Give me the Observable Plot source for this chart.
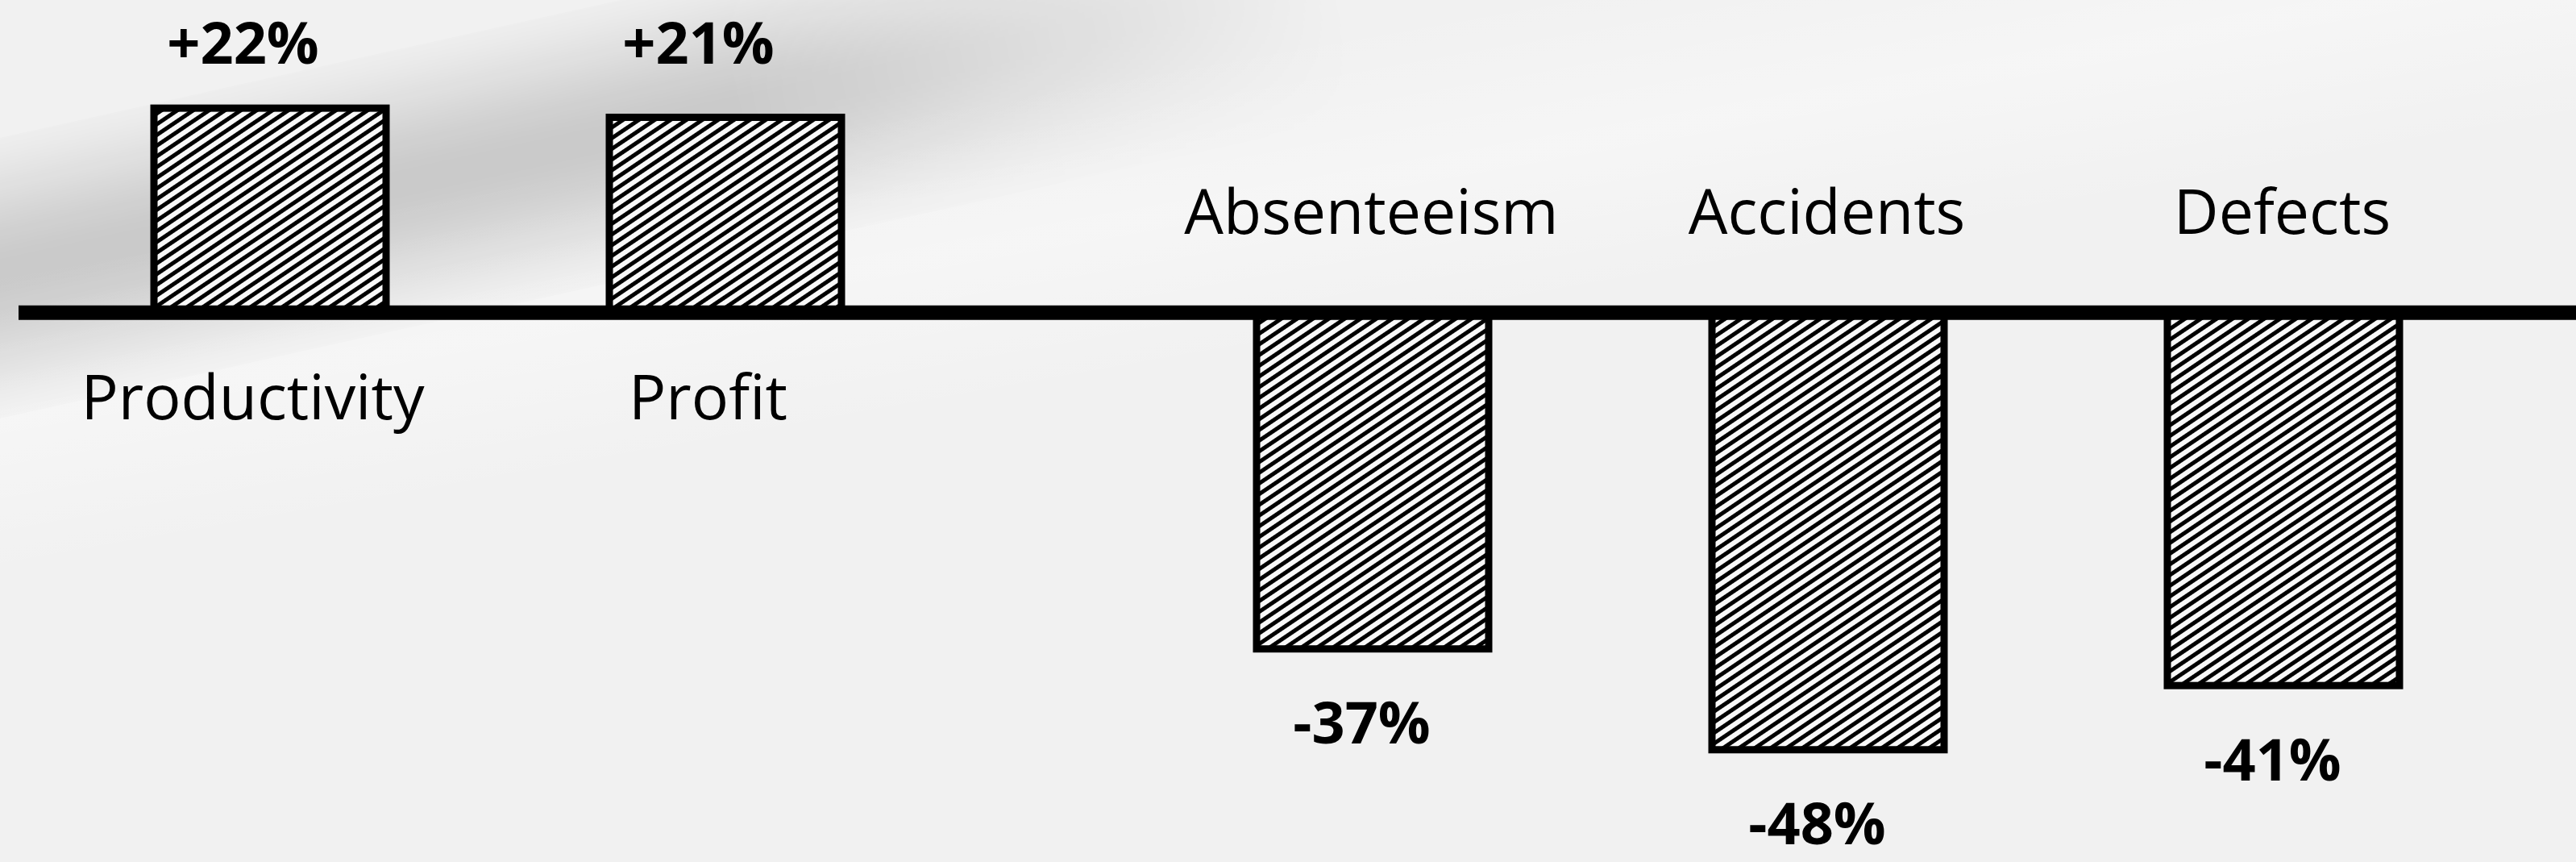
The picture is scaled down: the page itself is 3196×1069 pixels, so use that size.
<!DOCTYPE html>
<html>
<head>
<meta charset="utf-8">
<script src="https://cdn.jsdelivr.net/npm/d3@7"></script>
<script src="https://cdn.jsdelivr.net/npm/@observablehq/plot@0.6"></script>
<style>
  html, body { margin: 0; padding: 0; }
  body {
    width: 3196px; height: 1069px; position: relative; overflow: hidden;
    background: #f1f1f1;
    font-family: "Open Sans", sans-serif;
  }
  #shadow {
    position: absolute; left: -200px; top: 215px; width: 2200px; height: 340px;
    background: linear-gradient(to bottom, rgba(0,0,0,0) 0%, rgba(0,0,0,0.18) 45%, rgba(0,0,0,0.15) 60%, rgba(0,0,0,0) 100%);
    transform: rotate(-12.5deg); transform-origin: 0 0;
    -webkit-mask-image: linear-gradient(to right, #000 0%, #000 50%, rgba(0,0,0,0) 85%);
    mask-image: linear-gradient(to right, #000 0%, #000 50%, rgba(0,0,0,0) 85%);
    filter: blur(28px);
  }
  #light {
    position: absolute; left: 0; top: 0; width: 3196px; height: 1069px;
    background: linear-gradient(170deg, rgba(255,255,255,0) 20%, rgba(255,255,255,0.35) 32%, rgba(255,255,255,0) 44%);
  }
  #chart { position: absolute; left: 0; top: 0; }
</style>
</head>
<body>
<div id="light"></div>
<div id="shadow"></div>
<div id="chart"></div>
<script>
const categories = ["Productivity", "Profit", "Absenteeism", "Accidents", "Defects"];
const values = [22, 21, -37, -48, -41];
const valueLabels = ["+22%", "+21%", "-37%", "-48%", "-41%"];

const data = categories.map((c, i) => ({category: c, value: values[i], label: valueLabels[i]}));
const gains = data.filter(d => d.value > 0);
const losses = data.filter(d => d.value < 0);

const hatchDefs = () => {
  const defs = d3.create("svg:defs");
  const p = defs.append("pattern")
    .attr("id", "hatch")
    .attr("patternUnits", "userSpaceOnUse")
    .attr("width", 22).attr("height", 11)
    .attr("patternTransform", "rotate(-34)");
  p.append("rect").attr("width", 22).attr("height", 11).attr("fill", "#f8f8f8");
  p.append("line").attr("x1", 0).attr("y1", 5.5).attr("x2", 22).attr("y2", 5.5)
    .attr("stroke", "#000").attr("stroke-width", 5);
  return defs.node();
};

const common = {fontFamily: "Open Sans", fill: "#000"};

const chart = Plot.plot({
  width: 3196,
  height: 1069,
  marginLeft: 30,
  marginRight: 59,
  marginTop: 0,
  marginBottom: 0,
  style: {background: "transparent", overflow: "visible"},
  x: {domain: categories, padding: 0.49, axis: null},
  y: {domain: [-60.25, 33.8], axis: null},
  marks: [
    hatchDefs,
    Plot.barY(gains, {x: "category", y: "value", fill: "url(#hatch)", stroke: "#000", strokeWidth: 9, dx: -118}),
    Plot.barY(losses, {x: "category", y: "value", fill: "url(#hatch)", stroke: "#000", strokeWidth: 9, dx: 120}),
    Plot.ruleY([0], {stroke: "#000", strokeWidth: 18, insetLeft: -7, insetRight: -59, dy: 3}),
    Plot.text(gains, {x: "category", frameAnchor: "top", text: "label", dy: 55, dx: -152, lineAnchor: "middle", fontSize: 72, fontWeight: "bold", ...common}),
    Plot.text(gains, {x: "category", y: d => 0, text: "category", dy: 111, dx: -140, lineAnchor: "middle", fontSize: 77, ...common}),
    Plot.text(losses, {x: "category", y: d => 0, text: "category", dy: -119, dx: 118, lineAnchor: "middle", fontSize: 77, ...common}),
    Plot.text(losses, {x: "category", y: "value", text: "label", dy: 94, dx: 106, lineAnchor: "middle", fontSize: 72, fontWeight: "bold", ...common})
  ]
});
document.getElementById("chart").appendChild(chart);
</script>
</body>
</html>
